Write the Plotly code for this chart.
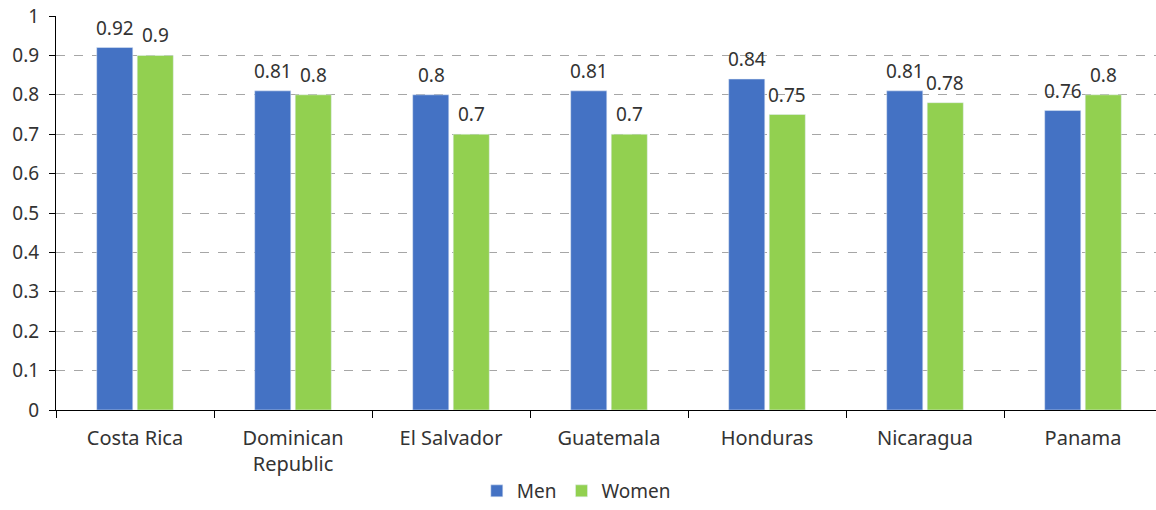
import plotly.graph_objects as go

categories = ["Costa Rica", "Dominican<br>Republic", "El Salvador", "Guatemala", "Honduras", "Nicaragua", "Panama"]
men = [0.92, 0.81, 0.80, 0.81, 0.84, 0.81, 0.76]
women = [0.90, 0.80, 0.70, 0.70, 0.75, 0.78, 0.80]
y_ticks = [0, 0.1, 0.2, 0.3, 0.4, 0.5, 0.6, 0.7, 0.8, 0.9, 1]
y_labels = ["0", "0.1", "0.2", "0.3", "0.4", "0.5", "0.6", "0.7", "0.8", "0.9", "1"]

FONT = "Noto Sans"
TXT = "#333333"
FS = 19
fig = go.Figure()
fig.add_trace(go.Bar(name="Men", x=categories, y=men, marker_color="#4472C4"))
fig.add_trace(go.Bar(name="Women", x=categories, y=women, marker_color="#92D050"))

for series, shift in ((men, -20), (women, 20)):
    for c, v in zip(categories, series):
        fig.add_annotation(x=c, y=v, text=f"{v:g}", showarrow=False, xshift=shift,
                           yanchor="bottom", yshift=5, font=dict(size=FS, color=TXT))

fig.update_layout(
    width=1156, height=510,
    margin=dict(l=56, r=0, t=16, b=100),
    paper_bgcolor="white", plot_bgcolor="white",
    barmode="group", bargap=0.487, bargroupgap=0.11,
    font=dict(family=FONT, size=FS, color=TXT),
    legend=dict(orientation="h", x=0.473, xanchor="center",
                yref="container", y=-0.01, yanchor="bottom",
                font=dict(size=FS), itemwidth=30, traceorder="normal",
                bgcolor="rgba(0,0,0,0)"),
)
fig.update_xaxes(range=[-0.5, -0.5 + 1100 / 158], showline=True, linecolor="black", linewidth=1,
                 ticks="outside", tickson="boundaries", ticklen=7, tickcolor="black",
                 showgrid=False, tickfont=dict(size=20), automargin=False, ticklabelstandoff=10)
fig.update_yaxes(range=[0, 1], tickvals=y_ticks, ticktext=y_labels, showline=True,
                 linecolor="black", linewidth=1, ticks="outside", ticklen=6, tickcolor="black",
                 showgrid=True, gridcolor="#A6A6A6", griddash="dash", gridwidth=1,
                 zeroline=False, tickfont=dict(size=FS), ticklabelstandoff=6, automargin=False)

post = (
    "document.documentElement.style.margin='0';"
    "document.documentElement.style.overflow='hidden';"
    "document.body.style.margin='0';"
    "document.body.style.overflow='hidden';"
    "var gd=document.getElementById('{plot_id}');"
    "gd.style.position='fixed';gd.style.left='0px';gd.style.top='0px';"
)
fig.write_html("out.html", config={"displayModeBar": False}, post_script=post)
